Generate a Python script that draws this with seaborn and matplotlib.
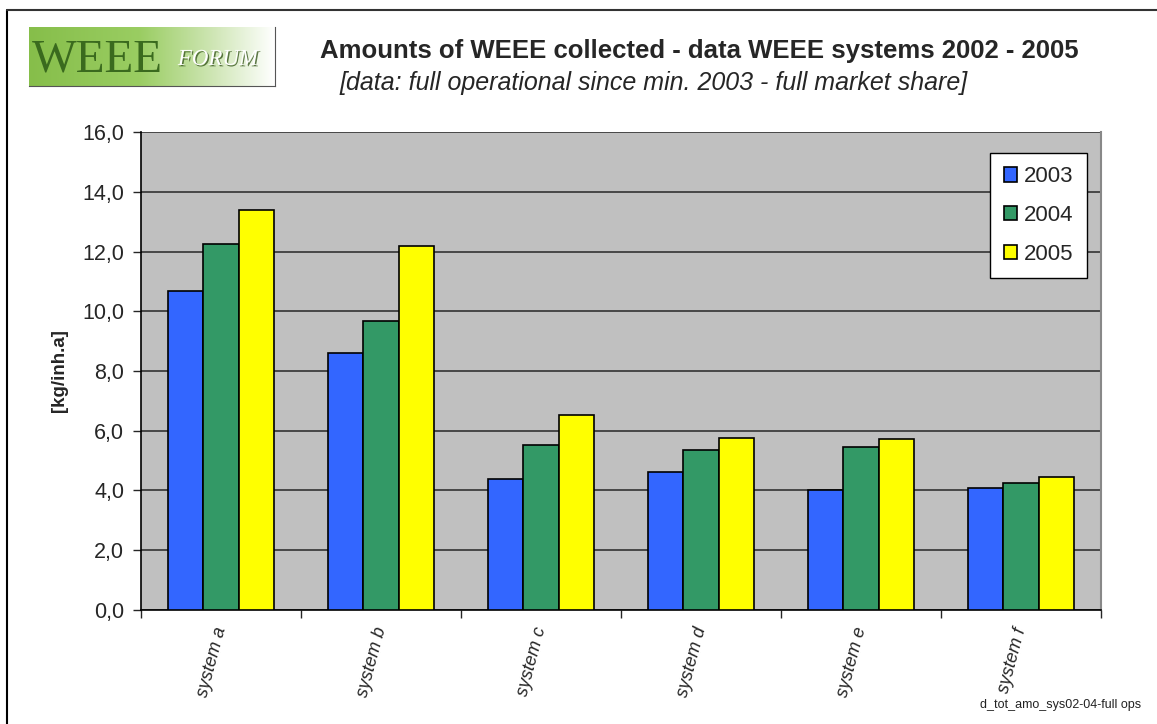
import numpy as np
import pandas as pd
import matplotlib.pyplot as plt
import matplotlib.patheffects as pe
from matplotlib.colors import LinearSegmentedColormap
import seaborn as sns

systems = ["system a", "system b", "system c", "system d", "system e", "system f"]
years = ["2003", "2004", "2005"]
val_2003 = [10.7, 8.6, 4.37, 4.61, 4.02, 4.07]
val_2004 = [12.25, 9.67, 5.53, 5.35, 5.45, 4.25]
val_2005 = [13.4, 12.2, 6.53, 5.76, 5.71, 4.46]
y_ticks = [0, 2, 4, 6, 8, 10, 12, 14, 16]

colors = ["#3366FF", "#339966", "#FFFF00"]

df = pd.DataFrame({
    "system": systems * 3,
    "year": [y for y in years for _ in systems],
    "value": val_2003 + val_2004 + val_2005,
})

sns.set_style("white")
plt.rcParams["font.family"] = ["Liberation Sans", "DejaVu Sans"]

fig = plt.figure(figsize=(11.57, 7.24), dpi=100)
ax = fig.add_axes([0.1219, 0.158, 0.8297, 0.659])

sns.barplot(data=df, x="system", y="value", hue="year", palette=colors,
            width=0.66, edgecolor="black", linewidth=1.2, ax=ax,
            saturation=1, zorder=3)

ax.set_facecolor("#C0C0C0")
ax.set_ylim(0, 16)
ax.set_xlim(-0.5, len(systems) - 0.5)
ax.set_yticks(y_ticks)
ax.set_yticklabels([f"{v:.1f}".replace(".", ",") for v in y_ticks], fontsize=15.5)
ax.yaxis.grid(True, color="#333333", linewidth=1.2, zorder=0)
ax.set_axisbelow(True)
ax.tick_params(axis="y", length=6, width=1, direction="out", left=True, pad=6)

# category ticks between groups (Excel style)
ax.set_xticks(np.arange(len(systems)))
ax.set_xticklabels(systems, fontsize=13, style="italic", rotation=75,
                   ha="right", va="center", rotation_mode="anchor")
ax.tick_params(axis="x", length=0, pad=13)
ax.set_xticks(np.arange(-0.5, len(systems)), minor=True)
ax.tick_params(axis="x", which="minor", length=6, width=1, bottom=True)

for side in ["left", "bottom"]:
    ax.spines[side].set_color("black")
    ax.spines[side].set_linewidth(1.2)
ax.spines["top"].set_visible(False)
ax.spines["right"].set_color("#888888")
ax.spines["right"].set_linewidth(1.5)

ax.set_xlabel("")
ax.set_ylabel("[kg/inh.a]", fontsize=13.5, fontweight="bold")
ax.yaxis.set_label_coords(-0.076, 0.5)

leg = ax.legend(loc="upper right", bbox_to_anchor=(0.985, 0.957), borderaxespad=0,
                fontsize=16, frameon=True, fancybox=False, edgecolor="black",
                framealpha=1, handlelength=0.6, handleheight=0.6, handletextpad=0.3,
                labelspacing=0.8, borderpad=0.6)
leg.get_frame().set_linewidth(1)

# titles
fig.text(0.604, 0.929, "Amounts of WEEE collected - data WEEE systems 2002 - 2005",
         ha="center", va="center", fontsize=18.5, fontweight="bold")
fig.text(0.565, 0.885, "[data: full operational since min. 2003 - full market share]",
         ha="center", va="center", fontsize=18, style="italic")
fig.text(0.986, 0.026, "d_tot_amo_sys02-04-full ops", ha="right", va="center",
         fontsize=9, color="#222222")

# logo
logo = fig.add_axes([0.0251, 0.881, 0.2126, 0.082])
grad = np.linspace(0, 1, 256).reshape(1, -1)
cmap = LinearSegmentedColormap.from_list(
    "logo", [(0, "#86BE4A"), (0.45, "#9ACD62"), (0.75, "#CFE6B5"), (1, "#FFFFFF")])
logo.imshow(grad, aspect="auto", cmap=cmap, extent=[0, 1, 0, 1])
logo.set_xlim(0, 1)
logo.set_ylim(0, 1)
logo.set_xticks([])
logo.set_yticks([])
for s in ["top", "left"]:
    logo.spines[s].set_visible(False)
logo.spines["right"].set_color("#555555")
logo.spines["bottom"].set_color("#555555")
logo.text(0.01, 0.44, "WEEE", fontsize=34, family="Liberation Serif", color="#3A6A1E",
          ha="left", va="center")
logo.text(0.605, 0.45, "FORUM", fontsize=16.5, family="Liberation Serif", style="italic",
          color="white", ha="left", va="center",
          path_effects=[pe.withSimplePatchShadow(offset=(1, -1), shadow_rgbFace="#3A5A20",
                                                 alpha=0.8)])

# frame around the whole picture
fig.add_artist(plt.Line2D([0.006, 0.006], [0, 0.986], color="black", linewidth=1.5))
fig.add_artist(plt.Line2D([0.006, 1], [0.986, 0.986], color="#333333", linewidth=1.5))

fig.savefig("out.png", dpi=100)
plt.close()
